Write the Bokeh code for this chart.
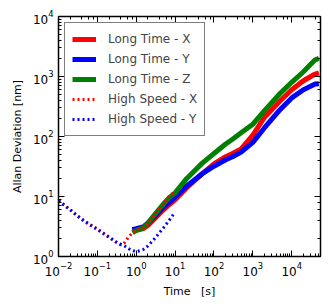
from bokeh.plotting import figure
from bokeh.models import LogAxis, Legend, LegendItem, CustomJSTickFormatter
from bokeh.embed import file_html
from bokeh.resources import INLINE

# Long time data
lt_time = [0.8, 1, 1.5, 2, 3, 5, 7, 10, 20, 50, 100, 200, 300, 500, 1000, 2000, 5000, 10000, 20000, 40000, 50000]
lt_x = [2.7, 2.8, 2.9, 3.3, 4.3, 6.0, 7.3, 8.8, 14, 24, 35, 46, 52, 62, 105, 210, 390, 600, 850, 1100, 1150]
lt_y = [2.8, 2.9, 3.1, 3.6, 4.7, 6.6, 8.0, 9.8, 15, 24, 32, 41, 46, 55, 80, 140, 280, 440, 600, 750, 760]
lt_z = [2.5, 2.7, 3.0, 3.6, 5.0, 7.5, 9.5, 11.5, 20, 36, 52, 75, 90, 115, 160, 270, 520, 800, 1200, 1900, 2000]

# High speed data
hs_time_x = [0.01, 0.02, 0.03, 0.05, 0.1, 0.2, 0.3, 0.4, 0.5, 0.6, 0.8, 1, 1.5, 2, 3, 5, 7, 9]
hs_x = [8.5, 6.0, 4.8, 3.7, 2.9, 2.1, 1.75, 1.55, 1.7, 2.0, 2.5, 2.8, 3.0, 3.6, 5.0, 7.5, 10, 11.5]
hs_time_y = [0.01, 0.02, 0.03, 0.05, 0.1, 0.2, 0.3, 0.5, 0.7, 1, 1.5, 2, 3, 5, 7, 9]
hs_y = [8.5, 6.0, 4.8, 3.8, 2.8, 2.1, 1.75, 1.5, 1.3, 1.2, 1.3, 1.5, 2.0, 3.0, 4.0, 5.0]

p = figure(width=329, height=307, x_axis_type="log", y_axis_type="log",
           x_range=(0.01, 55000), y_range=(1, 10000),
           output_backend="svg", toolbar_location=None,
           min_border_left=58, min_border_right=9, min_border_top=16, min_border_bottom=51)
p.grid.visible = False
p.outline_line_color = "black"
p.outline_line_width = 1.5

r1 = p.line(lt_time, lt_x, line_color="red", line_width=5)
r2 = p.line(lt_time, lt_y, line_color="blue", line_width=5)
r3 = p.line(lt_time, lt_z, line_color="green", line_width=5)
r4 = p.line(hs_time_x, hs_x, line_color="red", line_width=3, line_dash="2 3")
r5 = p.line(hs_time_y, hs_y, line_color="blue", line_width=3, line_dash="2 3")

blank = CustomJSTickFormatter(code="return '';")
p.add_layout(LogAxis(formatter=blank), "right")
p.add_layout(LogAxis(formatter=blank), "above")

for ax in p.axis:
    ax.major_tick_in = 6
    ax.major_tick_out = 0
    ax.minor_tick_in = 3
    ax.minor_tick_out = 0
    ax.axis_line_color = "black"
    ax.major_tick_line_color = "black"
    ax.minor_tick_line_color = "black"
    ax.major_label_text_font = "DejaVu Sans"
    ax.major_label_text_font_size = "12px"
    ax.major_label_text_color = "black"
    ax.axis_label_text_font = "DejaVu Sans"
    ax.axis_label_text_font_size = "11px"
    ax.axis_label_text_font_style = "normal"
    ax.axis_label_text_color = "black"

p.right[0].major_label_standoff = 0
p.above[0].major_label_standoff = 0

p.below[0].axis_label = "Time\u00a0\u00a0\u00a0[s]"
p.left[0].axis_label = "Allan Deviation [nm]"
p.below[0].major_label_standoff = 5
p.left[0].major_label_standoff = 5
p.below[0].axis_label_standoff = 6
p.left[0].axis_label_standoff = 6

legend = Legend(items=[
    LegendItem(label="Long Time - X", renderers=[r1]),
    LegendItem(label="Long Time - Y", renderers=[r2]),
    LegendItem(label="Long Time - Z", renderers=[r3]),
    LegendItem(label="High Speed - X", renderers=[r4]),
    LegendItem(label="High Speed - Y", renderers=[r5]),
], location="top_left")
legend.border_line_color = "black"
legend.border_line_width = 1.5
legend.label_text_font = "DejaVu Sans"
legend.label_text_font_size = "12px"
legend.glyph_width = 24
legend.glyph_height = 18
legend.label_height = 18
legend.spacing = 2
legend.label_standoff = 12
legend.padding = 7
legend.margin = 6
p.add_layout(legend)

open("out.html", "w").write(file_html(p, INLINE))
